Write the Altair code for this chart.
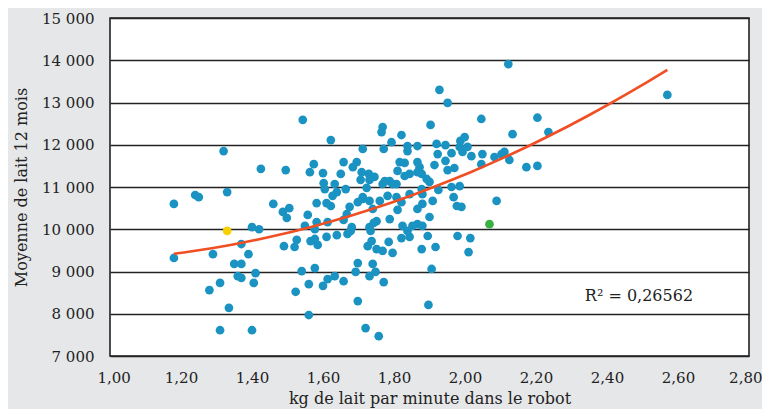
import altair as alt
import pandas as pd

# kg de lait par minute (x) and 12-month average milk (y)
x_vals = [
    1.18, 1.18, 1.24, 1.25, 1.32, 1.33, 1.29, 1.28, 1.31, 1.335, 1.31, 1.40, 1.37, 1.39, 1.40, 1.42,
    1.35, 1.37, 1.36, 1.37, 1.41, 1.405, 1.425,
    1.46, 1.495, 1.505, 1.487, 1.498, 1.49, 1.52, 1.526, 1.54, 1.523, 1.56, 1.577, 1.56, 1.557, 1.582,
    1.549, 1.577, 1.565, 1.577, 1.585, 1.61, 1.60, 1.613, 1.543, 1.622, 1.574, 1.563, 1.60, 1.602,
    1.605, 1.633, 1.639, 1.627, 1.61, 1.622, 1.613, 1.582, 1.639, 1.633,
    1.712, 1.658, 1.65, 1.695, 1.684, 1.709, 1.729, 1.745, 1.706, 1.731, 1.664, 1.723, 1.712, 1.658,
    1.667, 1.675, 1.681, 1.678, 1.698, 1.712, 1.731, 1.74, 1.731, 1.751, 1.726, 1.737, 1.692, 1.698,
    1.731, 1.74, 1.658, 1.669, 1.748, 1.771, 1.698, 1.72, 1.757, 1.751, 1.768, 1.785, 1.796, 1.743,
    1.734,
    1.768, 1.765, 1.821, 1.793, 1.771, 1.838, 1.838, 1.866, 1.816, 1.83, 1.81, 1.844, 1.866, 1.872,
    1.866, 1.878, 1.774, 1.788, 1.796, 1.768, 1.807, 1.83, 1.892, 1.90, 1.782, 1.76, 1.81, 1.821,
    1.807, 1.844, 1.88, 1.878, 1.88, 1.866, 1.909, 1.90, 1.788, 1.824, 1.838, 1.852, 1.866, 1.88,
    1.821, 1.844, 1.895, 1.878, 1.917, 1.906, 1.897,
    1.903, 1.928, 1.951, 2.046, 1.92, 1.923, 1.945, 1.987, 1.999, 1.985, 2.007, 1.993, 2.018, 2.049,
    2.046, 2.083, 2.103, 2.111, 2.125, 2.134, 2.122, 1.951, 1.97, 1.914, 1.945, 1.962, 1.925, 1.962,
    1.985, 1.968, 1.977, 1.99, 2.089, 1.979, 2.015, 2.01,
    2.173, 2.204, 2.204, 2.235, 2.57,
]
y_vals = [
    10600, 9320, 10810, 10760, 11850, 10880, 9410, 8560, 8730, 8140, 7610, 7610, 9650, 9410, 10050, 10000,
    9180, 9180, 8890, 8850, 8960, 8730, 11430,
    10600, 11400, 10500, 10410, 10270, 9600, 9580, 9750, 9010, 8520, 8700, 9080, 7970, 10340, 10620,
    10080, 10000, 9720, 9770, 9630, 9820, 8660, 8820, 12590, 12110, 11540, 11350, 11330, 11090,
    10950, 11070, 10880, 10790, 10620, 10550, 10170, 10170, 9860, 8890,
    11900, 11590, 11310, 11590, 11470, 11350, 11310, 11240, 11170, 11170, 10950, 10980, 10760, 10220,
    10360, 10530, 10050, 9960, 10640, 10720, 10670, 10480, 10050, 10190, 9600, 9720, 8990, 9200,
    8890, 9180, 8770, 9890, 8990, 8750, 8300, 7660, 7470, 9530, 9490, 9700, 9440, 10150,
    9960,
    12420, 12300, 12230, 12060, 11900, 11970, 11850, 11970, 11590, 11570, 11380, 11310, 11590, 11470,
    11350, 11310, 11140, 11140, 11070, 11070, 11070, 11260, 11190, 11120, 10790, 10670, 10460, 10640,
    10760, 10830, 10830, 10950, 10600, 10480, 10670, 10290, 10240, 10080, 9960, 10080, 10120, 10080,
    9790, 9820, 9840, 9530, 9580, 9060, 8210,
    12470, 13300, 12990, 12610, 12020, 11780, 11990, 12090, 12180, 11950, 11950, 11830, 11730, 11780,
    11540, 11710, 11780, 11830, 11640, 12250, 13910, 11400, 11450, 11520, 11620, 11800, 10930, 11000,
    11020, 10760, 10550, 10530, 10670, 9840, 9790, 9460,
    11470, 11500, 12640, 12300, 13180,
]

# two highlighted farms
special_x = [1.33, 2.069]
special_y = [9960, 10120]
special_name = ["jaune", "vert"]

df = pd.DataFrame({"x": x_vals + special_x, "y": y_vals + special_y})
df_special = pd.DataFrame({"x": special_x, "y": special_y, "g": special_name})
df_blue = pd.DataFrame({"x": x_vals, "y": y_vals})

x_ticks = [1.0, 1.2, 1.4, 1.6, 1.8, 2.0, 2.2, 2.4, 2.6, 2.8]
y_ticks = [7000, 8000, 9000, 10000, 11000, 12000, 13000, 14000, 15000]

annot = pd.DataFrame({"x": [2.49], "y": [8420], "t": ["R\u00b2 = 0,26562"]})

FONT = "DejaVu Serif"

xscale = alt.Scale(domain=[1.0, 2.8], nice=False, zero=False)
yscale = alt.Scale(domain=[7000, 15000], nice=False, zero=False)

xaxis = alt.Axis(
    values=x_ticks,
    labelExpr="replace(format(datum.value, '.2f'), '.', ',')",
    title="kg de lait par minute dans le robot",
    grid=False, ticks=False, domain=False,
    labelFlush=True, labelFlushOffset=13,
    labelPadding=14, titlePadding=5,
)
yaxis = alt.Axis(
    values=y_ticks,
    labelExpr="replace(format(datum.value, ','), ',', ' ')",
    title="Moyenne de lait 12 mois",
    grid=True, ticks=False, domain=False, labelFlush=False,
    labelPadding=16, titlePadding=12,
    gridColor="#222222", gridWidth=1.6, gridOpacity=1,
)

points = alt.Chart(df_blue).mark_circle(size=76, opacity=1, color="#1a93c2").encode(
    x=alt.X("x:Q", scale=xscale, axis=xaxis),
    y=alt.Y("y:Q", scale=yscale, axis=yaxis),
)

special = alt.Chart(df_special).mark_circle(size=76, opacity=1).encode(
    x=alt.X("x:Q", scale=xscale),
    y=alt.Y("y:Q", scale=yscale),
    color=alt.Color(
        "g:N",
        scale=alt.Scale(domain=["jaune", "vert"], range=["#f7d000", "#3bb143"]),
        legend=None,
    ),
)

trend = alt.Chart(df).transform_regression(
    "x", "y", method="poly", order=2
).mark_line(color="#f04e23", strokeWidth=2.6).encode(
    x=alt.X("x:Q", scale=xscale),
    y=alt.Y("y:Q", scale=yscale),
)

label = alt.Chart(annot).mark_text(font=FONT, fontSize=16, color="#222222").encode(
    x=alt.X("x:Q", scale=xscale),
    y=alt.Y("y:Q", scale=yscale),
    text="t:N",
)

chart = alt.layer(points, special, trend, label).properties(
    width=639,
    height=338,
    autosize=alt.AutoSizeParams(type="none"),
    padding={"left": 102, "top": 10, "right": 13, "bottom": 53},
    background="#e6e7e9",
).configure_view(
    fill="white", stroke="#222222", strokeWidth=1.6,
).configure_axis(
    labelFont=FONT, titleFont=FONT, labelFontSize=15, titleFontSize=16,
    labelColor="#222222", titleColor="#222222", titleFontWeight="normal",
)

chart.save("out.html", embed_options={"renderer": "svg", "actions": False})
